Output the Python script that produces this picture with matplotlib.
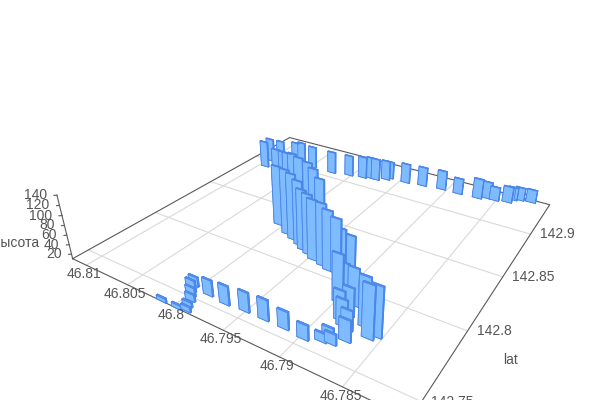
import matplotlib
matplotlib.use('Agg')
import matplotlib.pyplot as plt
from mpl_toolkits.mplot3d import proj3d

# долгота, широта и высота каждого столбца
lon = [46.8093, 46.8097, 46.8092, 46.8073, 46.8066, 46.8047, 46.8022, 46.8003, 46.7988, 46.7980,
       46.7974, 46.7965, 46.7963, 46.7944, 46.7926, 46.7906, 46.7888, 46.7868, 46.7860, 46.7852,
       46.7840, 46.7837, 46.7831, 46.7820,
       46.8026, 46.8017, 46.8009, 46.8003, 46.7994, 46.7983, 46.7975, 46.7963,
       46.8005, 46.7989, 46.7979, 46.7969, 46.7962, 46.7954, 46.7946,
       46.7935, 46.7927, 46.7919, 46.7920, 46.7913,
       46.7898, 46.7900, 46.7886, 46.7867, 46.7859, 46.7855, 46.7886, 46.7883, 46.7881, 46.7876,
       46.7871, 46.7885, 46.7878, 46.7884, 46.7897,
       46.7915, 46.7933, 46.7951, 46.7969, 46.7987, 46.8005, 46.8002, 46.7998, 46.7994, 46.7991,
       46.7988, 46.7996, 46.8012]
lat = [142.890, 142.900, 142.908, 142.910, 142.911, 142.907, 142.907, 142.910, 142.912, 142.914,
       142.914, 142.918, 142.921, 142.921, 142.923, 142.925, 142.925, 142.926, 142.929, 142.929,
       142.931, 142.936, 142.938, 142.939,
       142.848, 142.847, 142.844, 142.844, 142.842, 142.841, 142.839, 142.834,
       142.830, 142.824, 142.821, 142.818, 142.815, 142.813, 142.810,
       142.808, 142.806, 142.806, 142.812, 142.814,
       142.786, 142.794, 142.788, 142.777, 142.771, 142.774, 142.775, 142.780, 142.772, 142.771,
       142.764, 142.758, 142.759, 142.763, 142.755,
       142.756, 142.756, 142.756, 142.755, 142.756, 142.758, 142.754, 142.751, 142.748, 142.744,
       142.741, 142.740, 142.740]
height = [72, 65, 52, 55, 57, 61, 61, 58, 60, 60, 60, 55, 50, 55, 54, 54, 46, 55, 48, 41, 46, 39, 39, 39,
          138, 139, 144, 146, 145, 142, 136, 129,
          137, 147, 148, 144, 135, 134, 133,
          136, 131, 121, 90, 78,
          105, 70, 84, 106, 111, 106, 68, 66, 62, 49, 52, 27, 31, 27, 39,
          45, 51, 49, 48, 42, 29, 33, 28, 24, 20, 20, 18, 18]

lon_ticks = [46.81, 46.805, 46.8, 46.795, 46.79, 46.785]
lat_ticks = [142.75, 142.8, 142.85, 142.9]
z_ticks = [20, 40, 60, 80, 100, 120, 140]

LON_MAX, LON_MIN = 46.81177, 46.78025
LAT_MIN, LAT_MAX = 142.73968, 142.94192
Z_MIN, Z_MAX = 10, 140

TEXT = '#555555'
GRID = '#d9d9d9'
FRAME = '#595959'
LW = 0.8

plt.rcParams['font.family'] = ['Liberation Sans', 'DejaVu Sans']

fig = plt.figure(figsize=(6, 4), dpi=100)
ax = fig.add_axes([100 / 600, 0, 400 / 600, 1], projection='3d', computed_zorder=False)
ax.set_axis_off()
ax.set_proj_type('persp', focal_length=0.22747)
ax.view_init(28.72423, -57.42407)
ax.set_box_aspect((1.00742, 1, 0.19516))

# сетка на полу
for t in lon_ticks:
    ax.plot([t, t], [LAT_MIN, LAT_MAX], [Z_MIN, Z_MIN], color=GRID, lw=LW, zorder=1, clip_on=False)
for t in lat_ticks:
    ax.plot([LON_MAX, LON_MIN], [t, t], [Z_MIN, Z_MIN], color=GRID, lw=LW, zorder=1, clip_on=False)

# рамка пола и ось высоты
ax.plot([LON_MAX, LON_MIN, LON_MIN, LON_MAX, LON_MAX],
        [LAT_MIN, LAT_MIN, LAT_MAX, LAT_MAX, LAT_MIN],
        [Z_MIN] * 5, color=FRAME, lw=LW, zorder=2, clip_on=False)
ax.plot([LON_MAX, LON_MAX], [LAT_MIN, LAT_MIN], [Z_MIN, Z_MAX], color=FRAME, lw=LW, zorder=2, clip_on=False)
for t in z_ticks:
    ax.plot([LON_MAX, LON_MAX + 0.00016], [LAT_MIN, LAT_MIN - 0.001], [t, t],
            color=FRAME, lw=LW, zorder=2, clip_on=False)

# столбцы: низ, верх, широкие грани, узкие грани
dx, dy = 0.00095, 0.0009
FACE = '#7fbcff'
SIDE = '#4f8fee'
TOP = '#5a9af2'
face_colors = [SIDE, TOP, FACE, FACE, SIDE, SIDE] * len(lon)
ax.bar3d([v - dx / 2 for v in lon], [v - dy / 2 for v in lat], [Z_MIN] * len(lon),
         dx, dy, [h - Z_MIN for h in height],
         color=face_colors, shade=False, edgecolor='#4a86e8', linewidth=0.6, zorder=3, clip_on=False)

ax.set_xlim(LON_MAX, LON_MIN, view_margin=0)
ax.set_ylim(LAT_MIN, LAT_MAX, view_margin=0)
ax.set_zlim(Z_MIN, Z_MAX, view_margin=0)

# ставим оси так, чтобы проекция совпала с картинкой
K, CX, CY = 2641.55523, 329.06373, 200.41136
ax.apply_aspect()
a = ax.transData.transform((0, 0))
b = ax.transData.transform((1, 0))
kf = (b[0] - a[0]) / 400
fx, fy = (a[0] - 100) / 400, a[1] / 400
S = K / kf
ax.set_position([(CX - S * fx) / 600, ((400 - CY) - S * fy) / 400, S / 600, S / 400])

M = ax.get_proj()


def label(text, x, y, z, off, **kw):
    px, py, _ = proj3d.proj_transform(x, y, z, M)
    ax.annotate(text, xy=(px, py), xycoords='data', xytext=off, textcoords='offset pixels',
                color=TEXT, fontsize=10, annotation_clip=False, **kw)


for t in lon_ticks:
    label(str(t), t, LAT_MIN, Z_MIN, (-2, -9), ha='center', va='center')
for t in lat_ticks:
    label(str(t), LON_MIN, t, Z_MIN, (9, 0), ha='left', va='center')
for t in z_ticks:
    label(str(t), LON_MAX, LAT_MIN, t, (-10, 0), ha='right', va='center')

fig.text(39 / 600, 1 - 243 / 400, 'высота', color=TEXT, fontsize=10, ha='right', va='center')
fig.text(511 / 600, 1 - 360 / 400, 'lat', color=TEXT, fontsize=10, ha='center', va='center')

fig.savefig('out.png', dpi=100)
